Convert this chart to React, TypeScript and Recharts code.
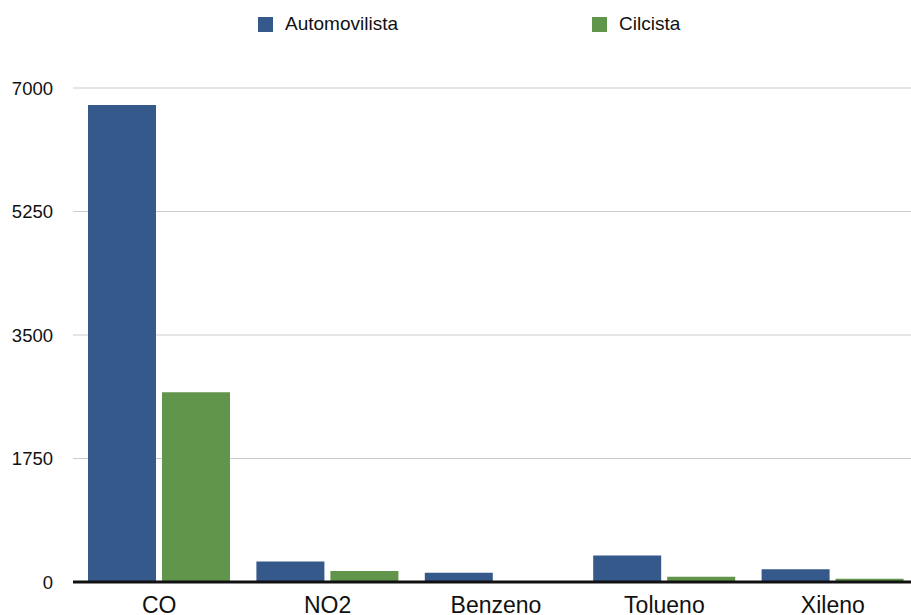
import React from 'react'
import { Bar, BarChart, CartesianGrid, XAxis, YAxis } from 'recharts'

const categories = ['CO', 'NO2', 'Benzeno', 'Tolueno', 'Xileno']
const automovilista = [6760, 290, 130, 375, 180]
const ciclista = [2690, 155, 2, 75, 45]
const yTicks = [0, 1750, 3500, 5250, 7000]

const seriesNames = ['Automovilista', 'Cilcista']
const seriesColors = ['#34598a', '#61954c']

const data = categories.map((name, i) => ({
  name,
  auto: automovilista[i],
  bici: ciclista[i],
}))

const font = '"Liberation Sans", Arial, sans-serif'

function Legend() {
  const lefts = [258, 592]
  return (
    <>
      {seriesNames.map((label, i) => (
        <div
          key={label}
          style={{
            position: 'absolute',
            left: lefts[i],
            top: 13,
            display: 'flex',
            alignItems: 'center',
            fontFamily: font,
            fontSize: 19,
            color: '#111',
            whiteSpace: 'nowrap',
          }}
        >
          <span
            style={{
              display: 'inline-block',
              width: 15,
              height: 15,
              background: seriesColors[i],
              marginRight: 12,
            }}
          />
          {label}
        </div>
      ))}
    </>
  )
}

export default function App() {
  return (
    <div
      style={{
        position: 'absolute',
        left: 0,
        top: 0,
        width: 911,
        height: 615,
        overflow: 'hidden',
        background: '#fff',
      }}
    >
      <Legend />
      <BarChart
        width={917}
        height={615}
        data={data}
        margin={{ top: 88, right: 0, left: 0, bottom: 0 }}
        barCategoryGap={13}
        barGap={6}
      >
        <CartesianGrid vertical={false} stroke="#cccccc" />
        <XAxis
          dataKey="name"
          height={33}
          padding={{ left: 2, right: 0 }}
          tickLine={false}
          tickSize={0}
          tickMargin={15}
          axisLine={{ stroke: '#111', strokeWidth: 3 }}
          tick={{ fill: '#111', fontSize: 23, fontFamily: font }}
        />
        <YAxis
          width={73}
          domain={[0, 7000]}
          ticks={yTicks}
          interval={0}
          axisLine={false}
          tickLine={false}
          tickSize={0}
          tickMargin={20}
          tick={{ fill: '#111', fontSize: 18.5, fontFamily: font }}
        />
        <Bar dataKey="auto" name={seriesNames[0]} fill={seriesColors[0]} isAnimationActive={false} />
        <Bar dataKey="bici" name={seriesNames[1]} fill={seriesColors[1]} isAnimationActive={false} />
      </BarChart>
    </div>
  )
}
